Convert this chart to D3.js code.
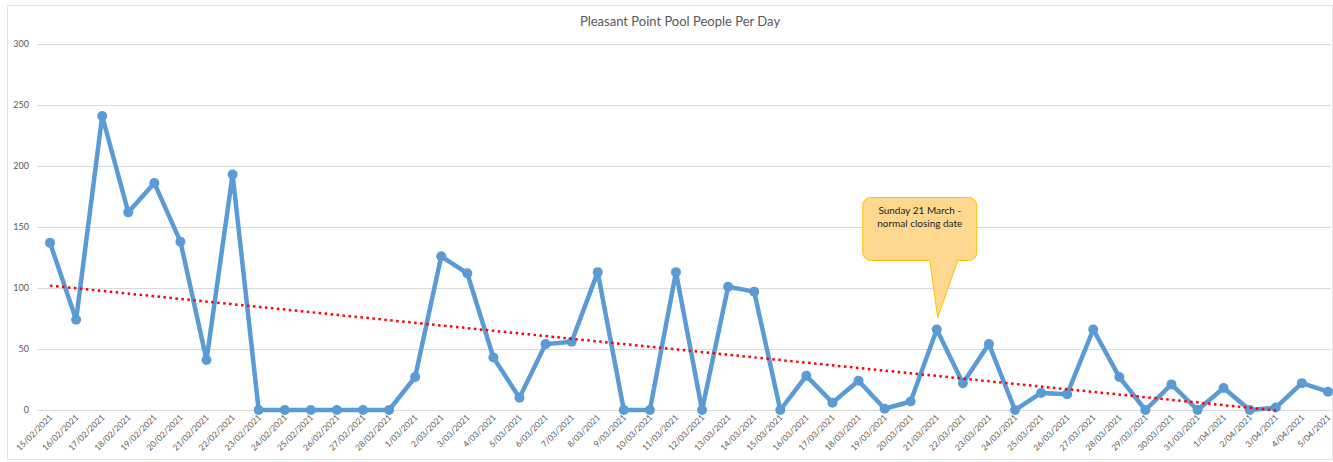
<!DOCTYPE html>
<meta charset="utf-8">
<head>
<script src="https://cdn.jsdelivr.net/npm/d3@7"></script>
<style>
  body { margin: 0; background: #fff; }
  text { font-family: Lato, "Open Sans", sans-serif; }
</style>
</head>
<body>
<div id="chart"></div>
<script>
// data
var dates = ["15/02/2021","16/02/2021","17/02/2021","18/02/2021","19/02/2021","20/02/2021","21/02/2021",
  "22/02/2021","23/02/2021","24/02/2021","25/02/2021","26/02/2021","27/02/2021","28/02/2021",
  "1/03/2021","2/03/2021","3/03/2021","4/03/2021","5/03/2021","6/03/2021","7/03/2021","8/03/2021",
  "9/03/2021","10/03/2021","11/03/2021","12/03/2021","13/03/2021","14/03/2021","15/03/2021",
  "16/03/2021","17/03/2021","18/03/2021","19/03/2021","20/03/2021","21/03/2021","22/03/2021",
  "23/03/2021","24/03/2021","25/03/2021","26/03/2021","27/03/2021","28/03/2021","29/03/2021",
  "30/03/2021","31/03/2021","1/04/2021","2/04/2021","3/04/2021","4/04/2021","5/04/2021"];
var people = [137,74,241,162,186,138,41,193,0,0,0,0,0,0,
  27,126,112,43,10,54,56,113,0,0,113,0,101,97,0,
  28,6,24,1,7,66,22,54,0,14,13,66,27,0,21,0,18,0,2,22,15];
var yTicks = [0,50,100,150,200,250,300];
var title = "Pleasant Point Pool People Per Day";
var calloutDate = "21/03/2021";
var calloutLines = ["Sunday 21 March -", "normal closing date"];
var trendEnd = "3/04/2021";

var W = 1333, H = 462;
var svg = d3.select("#chart").append("svg")
    .attr("width", W).attr("height", H);

// chart frame
svg.append("rect")
    .attr("x", 7.5).attr("y", 5.5)
    .attr("width", W - 8).attr("height", H - 8)
    .attr("fill", "#fff").attr("stroke", "#e3e3e3");

var x = d3.scalePoint().domain(dates).range([37, 1341]).padding(0.5);
var y = d3.scaleLinear().domain([0, 300]).range([410, 44]);

svg.append("text")
    .attr("x", 680).attr("y", 26)
    .attr("text-anchor", "middle")
    .style("font-size", "13px")
    .attr("fill", "#595959")
    .text(title);

// gridlines + y labels
var gy = svg.append("g");
gy.selectAll("line").data(yTicks).enter().append("line")
    .attr("x1", 37).attr("x2", W - 2)
    .attr("y1", d => y(d) + 0.5).attr("y2", d => y(d) + 0.5)
    .attr("stroke", "#d9d9d9");
gy.selectAll("text").data(yTicks).enter().append("text")
    .attr("x", 29).attr("y", d => y(d) + 3)
    .attr("text-anchor", "end")
    .style("font-size", "9px")
    .attr("fill", "#595959")
    .text(d => d);

// x labels
svg.append("g").selectAll("text").data(dates).enter().append("text")
    .attr("transform", d => "translate(" + (x(d) + 3) + ",418) rotate(-45)")
    .attr("text-anchor", "end")
    .style("font-size", "8.5px")
    .attr("fill", "#595959")
    .text(d => d);

// linear trend
var n = people.length, mx = d3.mean(d3.range(n)), my = d3.mean(people);
var sxy = d3.sum(people, (v, i) => (i - mx) * (v - my));
var sxx = d3.sum(d3.range(n), i => (i - mx) * (i - mx));
var slope = sxy / sxx, icpt = my - slope * mx;
var endIdx = dates.indexOf(trendEnd);

var line = d3.line().x(d => x(d.date)).y(d => y(d.v));
var series = dates.map((d, i) => ({date: d, v: people[i]}));

svg.append("path")
    .datum(series)
    .attr("d", line)
    .attr("fill", "none")
    .attr("stroke", "#5b9bd5")
    .attr("stroke-width", 4.5)
    .attr("stroke-linejoin", "round");

svg.append("g").selectAll("circle").data(series).enter().append("circle")
    .attr("cx", d => x(d.date)).attr("cy", d => y(d.v))
    .attr("r", 5)
    .attr("fill", "#5b9bd5");

svg.append("line")
    .attr("x1", x(dates[0])).attr("y1", y(icpt))
    .attr("x2", x(dates[endIdx])).attr("y2", y(icpt + slope * endIdx))
    .attr("stroke", "#ff0000")
    .attr("stroke-width", 2.5)
    .attr("stroke-dasharray", "2.5,3.5");

// callout
var tipX = x(calloutDate) + 1, tipY = y(people[dates.indexOf(calloutDate)]) - 12;
var bx = tipX - 75, by = tipY - 120, bw = 114, bh = 63, r = 8;
var pl = tipX - 8, pr = tipX + 20;
var p = d3.path();
p.moveTo(bx + r, by);
p.lineTo(bx + bw - r, by);
p.arcTo(bx + bw, by, bx + bw, by + r, r);
p.lineTo(bx + bw, by + bh - r);
p.arcTo(bx + bw, by + bh, bx + bw - r, by + bh, r);
p.lineTo(pr, by + bh);
p.lineTo(tipX, tipY);
p.lineTo(pl, by + bh);
p.lineTo(bx + r, by + bh);
p.arcTo(bx, by + bh, bx, by + bh - r, r);
p.lineTo(bx, by + r);
p.arcTo(bx, by, bx + r, by, r);
p.closePath();
svg.append("path")
    .attr("d", p.toString())
    .attr("fill", "#ffd88f")
    .attr("stroke", "#ffc000")
    .attr("stroke-width", 1);

svg.append("g").selectAll("text").data(calloutLines).enter().append("text")
    .attr("x", bx + bw / 2).attr("y", (d, i) => by + 17 + i * 13)
    .attr("text-anchor", "middle")
    .style("font-size", "10px")
    .attr("fill", "#222")
    .text(d => d);
</script>
</body>
</html>
